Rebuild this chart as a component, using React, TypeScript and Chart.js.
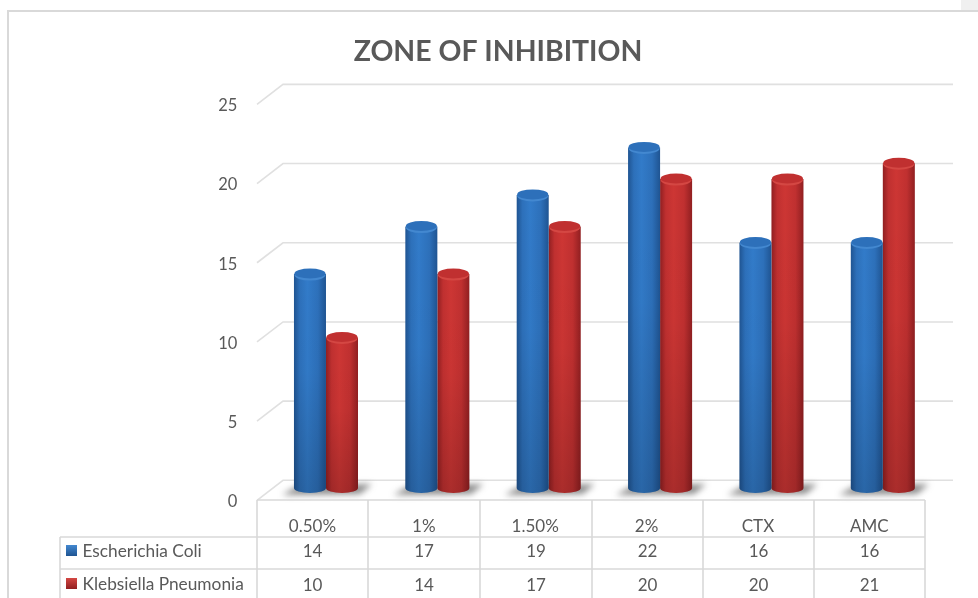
import React, { useEffect, useRef } from "react";
import { Chart, registerables } from "chart.js";

Chart.register(...registerables);

const TITLE = "ZONE OF INHIBITION";
const categories = ["0.50%", "1%", "1.50%", "2%", "CTX", "AMC"];
const escherichiaColi = [14, 17, 19, 22, 16, 16];
const klebsiellaPneumonia = [10, 14, 17, 20, 20, 21];
const seriesNames = ["Escherichia Coli", "Klebsiella Pneumonia"];
const yTicks = [0, 5, 10, 15, 20, 25];

const TEXT = "#595959";
const LINE = "#d9d9d9";
const FONT = "Lato, 'Open Sans', sans-serif";
const palettes = [
  { dark: "#1f5492", main: "#2d70ba", light: "#327bc9", top: "#3a82cd", rim: "#4388d0" },
  { dark: "#911f21", main: "#c03030", light: "#cd3634", top: "#c93634", rim: "#d44743" },
];

const BAR_FRACTION = 0.575;
const tableCols = [257, 368, 480, 592, 703, 814, 925];
const tableRows = [500, 537, 569];
const legendLeft = 60;

function barHalf(chart: any) {
  const xs = chart.scales.x;
  return ((xs.right - xs.left) / categories.length) * BAR_FRACTION / 4;
}

function cylinderFill(c: any) {
  const pal = palettes[c.datasetIndex];
  if (c.dataIndex === undefined || !c.chart.scales?.x) return pal.main;
  const half = barHalf(c.chart);
  const centre = c.chart.scales.x.getPixelForValue(c.dataIndex) + (c.datasetIndex === 0 ? -half : half);
  if (!Number.isFinite(centre) || !Number.isFinite(half)) return pal.main;
  const g = c.chart.ctx.createLinearGradient(centre - half, 0, centre + half, 0);
  g.addColorStop(0, pal.dark);
  g.addColorStop(0.18, pal.main);
  g.addColorStop(0.42, pal.light);
  g.addColorStop(0.75, pal.main);
  g.addColorStop(1, pal.dark);
  return g;
}

const scenePlugin = {
  id: "scene",
  beforeDraw(chart: any) {
    const { ctx, width, height } = chart;
    ctx.save();
    ctx.fillStyle = "#ffffff";
    ctx.fillRect(0, 0, width, height);
    ctx.fillStyle = "#f0f0f0";
    ctx.fillRect(961, 0, 17, 10);
    ctx.strokeStyle = LINE;
    ctx.lineWidth = 2;
    ctx.beginPath();
    ctx.moveTo(8, height);
    ctx.lineTo(8, 11);
    ctx.lineTo(width, 11);
    ctx.stroke();
    ctx.restore();
  },
  beforeDatasetsDraw(chart: any) {
    const { ctx, scales } = chart;
    ctx.save();
    // 3D back wall grid and floor
    ctx.strokeStyle = "#e0e0e0";
    ctx.lineWidth = 1.6;
    yTicks.forEach((v) => {
      const back = scales.y.getPixelForValue(v) - 15.5;
      ctx.beginPath();
      ctx.moveTo(257, back + 20);
      ctx.lineTo(283, back);
      ctx.lineTo(953, back);
      ctx.stroke();
    });
    // Floor shadows
    ctx.filter = "blur(3px)";
    ctx.fillStyle = "rgba(90,90,90,0.7)";
    categories.forEach((_, i) => {
      const c = scales.x.getPixelForValue(i);
      ctx.beginPath();
      ctx.moveTo(c - 44, 495);
      ctx.lineTo(c - 28, 486);
      ctx.lineTo(c + 46, 484);
      ctx.lineTo(c + 34, 494);
      ctx.closePath();
      ctx.fill();
    });
    ctx.filter = "none";
    ctx.restore();
  },
  afterDatasetsDraw(chart: any) {
    const { ctx } = chart;
    ctx.save();
    chart.data.datasets.forEach((_: any, di: number) => {
      const pal = palettes[di];
      chart.getDatasetMeta(di).data.forEach((el: any) => {
        const rx = el.width / 2;
        const baseY = el.base;
        const side = ctx.createLinearGradient(el.x - rx, 0, el.x + rx, 0);
        side.addColorStop(0, pal.dark);
        side.addColorStop(0.18, pal.main);
        side.addColorStop(0.42, pal.light);
        side.addColorStop(0.75, pal.main);
        side.addColorStop(1, pal.dark);
        // rounded foot of the cylinder
        ctx.fillStyle = side;
        ctx.beginPath();
        ctx.ellipse(el.x, baseY, rx, 5, 0, 0, Math.PI);
        ctx.fill();
        // darkening toward the base
        const shade = ctx.createLinearGradient(0, el.y, 0, baseY + 5);
        shade.addColorStop(0, "rgba(0,0,0,0)");
        shade.addColorStop(0.45, "rgba(0,0,0,0.02)");
        shade.addColorStop(1, "rgba(0,0,0,0.17)");
        ctx.fillStyle = shade;
        ctx.beginPath();
        ctx.moveTo(el.x - rx, el.y);
        ctx.lineTo(el.x + rx, el.y);
        ctx.lineTo(el.x + rx, baseY);
        ctx.ellipse(el.x, baseY, rx, 5, 0, 0, Math.PI);
        ctx.closePath();
        ctx.fill();
        // lit rim and cap
        ctx.fillStyle = pal.rim;
        ctx.beginPath();
        ctx.ellipse(el.x, el.y + 1, rx - 0.5, 5.5, 0, 0, Math.PI * 2);
        ctx.fill();
        const cap = ctx.createLinearGradient(0, el.y - 5.5, 0, el.y + 5.5);
        cap.addColorStop(0, pal.main);
        cap.addColorStop(1, pal.main);
        ctx.fillStyle = cap;
        ctx.beginPath();
        ctx.ellipse(el.x, el.y - 0.5, rx - 0.5, 5, 0, 0, Math.PI * 2);
        ctx.fill();
      });
    });
    ctx.restore();
  },
  afterDraw(chart: any) {
    const { ctx, height } = chart;
    ctx.save();
    // Data table lines
    ctx.strokeStyle = LINE;
    ctx.lineWidth = 1.6;
    ctx.beginPath();
    tableCols.forEach((x) => {
      ctx.moveTo(x, tableRows[0]);
      ctx.lineTo(x, height);
    });
    ctx.moveTo(tableCols[0], tableRows[0]);
    ctx.lineTo(tableCols[6], tableRows[0]);
    ctx.moveTo(legendLeft, tableRows[1]);
    ctx.lineTo(tableCols[6], tableRows[1]);
    ctx.moveTo(legendLeft, tableRows[2]);
    ctx.lineTo(tableCols[6], tableRows[2]);
    ctx.moveTo(legendLeft, tableRows[1]);
    ctx.lineTo(legendLeft, height);
    ctx.stroke();

    // Series keys and values
    const rows = [
      { name: seriesNames[0], values: escherichiaColi, y: 552, keyY: 545, labelY: 551 },
      { name: seriesNames[1], values: klebsiellaPneumonia, y: 586, keyY: 578, labelY: 584 },
    ];
    ctx.textBaseline = "middle";
    rows.forEach((row, r) => {
      const pal = palettes[r];
      const g = ctx.createLinearGradient(0, row.keyY, 0, row.keyY + 11);
      g.addColorStop(0, pal.rim);
      g.addColorStop(1, pal.dark);
      ctx.fillStyle = g;
      ctx.fillRect(66, row.keyY, 11, 11);
      ctx.fillStyle = TEXT;
      ctx.textAlign = "left";
      ctx.font = `17.3px ${FONT}`;
      ctx.fillText(row.name, 82.5, row.labelY);
      ctx.textAlign = "center";
      ctx.font = `17px ${FONT}`;
      row.values.forEach((v, i) => {
        ctx.fillText(String(v), (tableCols[i] + tableCols[i + 1]) / 2, row.y);
      });
    });
    ctx.restore();
  },
};

export default function App() {
  const ref = useRef<HTMLCanvasElement>(null);
  useEffect(() => {
    const chart = new Chart(ref.current as HTMLCanvasElement, {
      type: "bar",
      data: {
        labels: categories,
        datasets: [
          { label: seriesNames[0], data: escherichiaColi, backgroundColor: cylinderFill, borderWidth: 0, base: 0.5 },
          { label: seriesNames[1], data: klebsiellaPneumonia, backgroundColor: cylinderFill, borderWidth: 0, base: 0.5 },
        ],
      },
      options: {
        responsive: false,
        animation: false,
        devicePixelRatio: 1,
        layout: { padding: { left: 57.5, right: 39.5, top: 10, bottom: 0 } },
        datasets: { bar: { categoryPercentage: BAR_FRACTION, barPercentage: 1 } },
        scales: {
          x: {
            grid: { display: false },
            border: { display: false },
            afterFit: (s: any) => { s.height = 102.2; },
            ticks: {
              color: TEXT,
              font: { family: FONT, size: 17 },
              padding: 13,
              labelOffset: -13.5,
              maxRotation: 0,
              autoSkip: false,
            },
          },
          y: {
            min: 0,
            max: 25,
            grid: { display: false, drawTicks: false },
            border: { display: false },
            afterFit: (s: any) => { s.width = 212.8; },
            ticks: {
              stepSize: 5,
              color: TEXT,
              font: { family: FONT, size: 16.5 },
              padding: 33,
              labelOffset: 6,
            },
          },
        },
        plugins: {
          legend: { display: false },
          tooltip: { enabled: false },
          title: {
            display: true,
            text: TITLE,
            color: "#595959",
            font: { family: FONT, size: 28.4, weight: "bold", lineHeight: 1.2 },
            padding: { top: 24.9, bottom: 30.9 },
          },
        },
      },
      plugins: [scenePlugin],
    } as any);
    return () => chart.destroy();
  }, []);
  return (
    <div style={{ position: "absolute", left: 0, top: 0, width: 978, height: 598, overflow: "hidden" }}>
      <canvas ref={ref} width={978} height={598} style={{ display: "block" }} />
    </div>
  );
}
